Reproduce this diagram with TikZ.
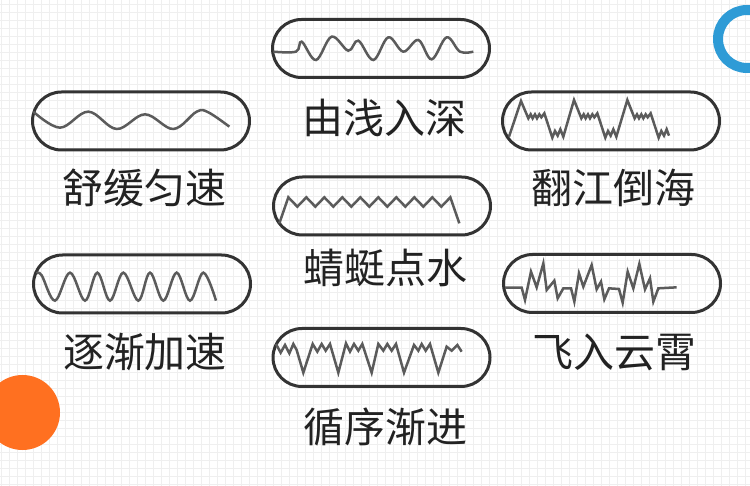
\documentclass[tikz,border=0pt]{standalone}
\usepackage{fontspec}
\newfontfamily\cjk{Noto Sans CJK SC}
\definecolor{pillc}{HTML}{333333}
\definecolor{wavec}{HTML}{5B5B5B}
\definecolor{txtc}{HTML}{222222}
\definecolor{gridc}{HTML}{EFEFEF}
\definecolor{ringblue}{HTML}{2E9BD6}
\definecolor{dotorange}{HTML}{FF7020}
\begin{document}
\begin{tikzpicture}[x=1pt,y=-1pt,
  pill/.style={draw=pillc, line width=3pt, rounded corners=29pt, minimum width=217pt, minimum height=58pt, inner sep=0pt},
  wave/.style={draw=wavec, line width=2.5pt},
  lbl/.style={text=txtc, font={\cjk\fontsize{41}{45}\selectfont}, inner sep=0pt},
  gridl/.style={draw=gridc, line width=1pt}]
\useasboundingbox (0,0) rectangle (750,486);
\fill[white] (0,0) rectangle (750,486);
\foreach \i in {0,...,93} \draw[gridl] ({1+8*\i},0) -- ({1+8*\i},486);
\foreach \j in {0,...,60} \draw[gridl] (0,{4.7+8*\j}) -- (750,{4.7+8*\j});
% decorations
\draw[ringblue, line width=10pt] (747,39) circle[radius=29];
\fill[dotorange] (22.5,412.5) circle[radius=37.5];
% pills
\node[pill] (p1) at (381,48.5) {};
\node[pill] (p2) at (141,121) {};
\node[pill] (p3) at (611,121) {};
\node[pill] (p4) at (382,206) {};
\node[pill] (p5) at (142,284) {};
\node[pill] (p6) at (612,283.5) {};
\node[pill] (p7) at (381.5,357.5) {};
% labels
\node[lbl] (l1) at (384,118) {由浅入深};
\node[lbl] (l2) at (144,188) {舒缓匀速};
\node[lbl] (l3) at (613,188) {翻江倒海};
\node[lbl] (l4) at (385,268) {蜻蜓点水};
\node[lbl] (l5) at (145,352) {逐渐加速};
\node[lbl] (l6) at (614,352) {飞入云霄};
\node[lbl] (l7) at (385,427) {循序渐进};
% wave 1
\begin{scope}[shift={(260,10)}, scale=1/3]
\draw[wave] plot[smooth, tension=0.6] coordinates {(40,125) (108,125) (125,95) (168,150) (215,80) (265,122) (295,92) (340,150) (385,82) (430,125) (475,90) (515,148) (560,82) (600,125) (640,125)};
\end{scope}
% wave 2
\begin{scope}[shift={(20,85)}, scale=1/3]
\draw[wave] plot[smooth, tension=0.6] coordinates {(40,80) (120,128) (205,80) (290,132) (375,88) (460,132) (530,80) (565,82) (628,125)};
\end{scope}
% wave 3
\begin{scope}[shift={(495,85)}, scale=1/3]
\draw[wave] (42,155) -- (78,48) -- (100,100) -- (107,88) -- (113,100) -- (120,88) -- (126,100) -- (133,88) -- (139,97) -- (148,85) -- (172,158) -- (180,138) -- (188,152) -- (196,133) -- (205,155)
 -- (237,45) -- (259,100) -- (266,88) -- (272,100) -- (279,88) -- (285,100) -- (292,88) -- (298,97) -- (307,85) -- (331,158) -- (339,138) -- (347,152) -- (355,133) -- (364,155)
 -- (397,45) -- (419,100) -- (426,88) -- (432,100) -- (439,88) -- (445,100) -- (452,88) -- (458,97) -- (467,85) -- (491,158) -- (499,138) -- (507,152) -- (515,133) -- (522,152);
\end{scope}
% wave 4
\begin{scope}[shift={(260,170)}, scale=1/3]
\draw[wave] (58,160) -- (85,82) -- (112,110) -- (139,82) -- (166,110) -- (193,82) -- (220,110) -- (247,82) -- (274,110) -- (301,82) -- (328,110) -- (355,82) -- (382,110) -- (409,82) -- (436,110) -- (463,82) -- (490,110) -- (517,82) -- (544,110) -- (571,82) -- (598,160);
\end{scope}
% wave 5
\begin{scope}[shift={(20,250)}, scale=1/3]
\draw[wave] plot[smooth, tension=0.6] coordinates {(50,70) (65,76) (105,152) (150,68) (195,152) (232,68) (270,152) (310,68) (355,152) (390,68) (430,152) (470,68) (510,152) (550,68) (588,152)};
\end{scope}
% wave 6
\begin{scope}[shift={(495,250)}, scale=1/3]
\draw[wave] (30,113) -- (80,113) -- (90,150) -- (108,65) -- (125,112) -- (145,40) -- (155,120) -- (178,92) -- (188,145) -- (205,115) -- (228,115) -- (238,155) -- (252,70) -- (265,110) -- (290,45) -- (305,118) -- (318,95) -- (328,148) -- (342,115) -- (372,117) -- (383,158) -- (398,65) -- (415,115) -- (433,42) -- (450,118) -- (465,85) -- (475,155) -- (490,115) -- (545,112);
\end{scope}
% wave 7
\begin{scope}[shift={(260,320)}, scale=1/3]
\draw[wave] (48,72) -- (62,98) -- (75,75) -- (88,100) -- (100,72) -- (110,90) -- (130,158) -- (158,72) -- (172,95) -- (185,72) -- (197,92) -- (210,72) -- (235,158) -- (258,70) -- (270,95) -- (282,72) -- (295,92) -- (307,72) -- (335,158) -- (355,72) -- (370,92) -- (382,72) -- (395,92) -- (408,72) -- (432,158) -- (462,75) -- (475,92) -- (485,72) -- (497,92) -- (510,72) -- (535,158) -- (560,80) -- (575,92) -- (592,75) -- (605,95);
\end{scope}
\end{tikzpicture}
\end{document}
